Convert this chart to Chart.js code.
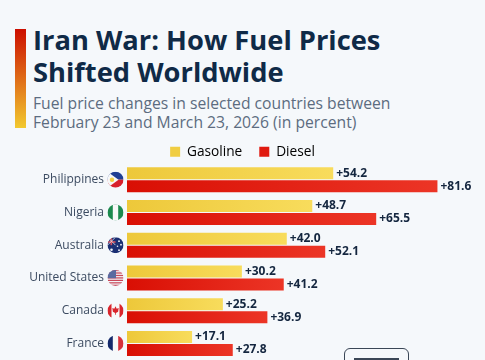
<!DOCTYPE html>
<html>
<head>
<meta charset="utf-8">
<script src="https://cdn.jsdelivr.net/npm/chart.js@4/dist/chart.umd.min.js"></script>
<style>
html, body { margin: 0; padding: 0; width: 485px; height: 360px; overflow: hidden; background: #f5f8fb; font-family: "Open Sans", sans-serif; }
.accent { position: absolute; left: 15px; top: 29px; width: 11px; height: 99px; background: linear-gradient(#cc0e00, #f2c92f); }
h1 { position: absolute; left: 33px; top: 24px; margin: 0; font-size: 27.3px; line-height: 31.5px; font-weight: 700; color: #0f2a47; white-space: nowrap; }
.sub { position: absolute; left: 33px; top: 94px; font-size: 15.7px; line-height: 19px; color: #5c6c80; white-space: nowrap; }
#myChart { position: absolute; left: 0; top: 128px; }
.logo { position: absolute; left: 344px; top: 348px; width: 63px; height: 20px; border: 1.5px solid #3a4656; border-radius: 6px; }
.logo i { position: absolute; left: 9px; top: 9px; width: 45px; height: 3px; background: #3a4656; }
</style>
</head>
<body>
<div class="accent"></div>
<h1>Iran War: How Fuel Prices<br>Shifted Worldwide</h1>
<div class="sub">Fuel price changes in selected countries between<br>February 23 and March 23, 2026 (in percent)</div>
<!-- canvas runs 7px past the window, the y axis keeps half a label height free at its bottom -->
<canvas id="myChart" width="485" height="239"></canvas>
<div class="logo"><i></i></div>
<script>
var countries = ["Philippines", "Nigeria", "Australia", "United States", "Canada", "France"];
var gasoline = [54.2, 48.7, 42.0, 30.2, 25.2, 17.1];
var diesel = [81.6, 65.5, 52.1, 41.2, 36.9, 27.8];

// each bar fades a little from left to right
function barGradient(ctx, from, to) {
    var chart = ctx.chart;
    if (!chart.chartArea || ctx.raw === undefined) return from;
    var xs = chart.scales.x;
    var g = chart.ctx.createLinearGradient(xs.getPixelForValue(0), 0, xs.getPixelForValue(ctx.raw), 0);
    g.addColorStop(0, from);
    g.addColorStop(1, to);
    return g;
}

// flag drawers, all work in a -8..8 box clipped to a circle
var flags = {
    "Philippines": function(c) {
        c.fillStyle = "#1f3f94"; c.fillRect(-8, -8, 16, 8);
        c.fillStyle = "#d8202c"; c.fillRect(-8, 0, 16, 8);
        c.fillStyle = "#f6f7f8"; c.beginPath(); c.moveTo(-8, -8); c.lineTo(3, 0); c.lineTo(-8, 8); c.fill();
        c.fillStyle = "#f4cf45"; c.beginPath(); c.arc(-3.5, 0, 2.2, 0, Math.PI * 2); c.fill();
    },
    "Nigeria": function(c) {
        c.fillStyle = "#1c8a4e"; c.fillRect(-8, -8, 16, 16);
        c.fillStyle = "#f7f9f8"; c.fillRect(-2.7, -8, 5.4, 16);
    },
    "Australia": function(c) {
        c.fillStyle = "#1b2f73"; c.fillRect(-8, -8, 16, 16);
        c.fillStyle = "#d9505c"; c.fillRect(-8, -4, 8, 1.6); c.fillRect(-5, -8, 1.6, 8);
        c.strokeStyle = "#e9e9ef"; c.lineWidth = 0.8; c.beginPath();
        c.moveTo(-8, -8); c.lineTo(0, 0); c.moveTo(0, -8); c.lineTo(-8, 0); c.stroke();
        c.fillStyle = "#f4f6fa";
        [[-4, 4.5, 1.3], [3.5, -4, 0.9], [5.5, -0.5, 0.9], [2, 1, 0.8], [3.5, 5, 0.9]].forEach(function(s) {
            c.beginPath(); c.arc(s[0], s[1], s[2], 0, Math.PI * 2); c.fill();
        });
    },
    "United States": function(c) {
        c.fillStyle = "#f2f3f6"; c.fillRect(-8, -8, 16, 16);
        c.fillStyle = "#c9475a";
        for (var i = 0; i < 7; i++) c.fillRect(-8, -8 + i * 2.46, 16, 1.23);
        c.fillStyle = "#5b6aa0"; c.fillRect(-8, -8, 8.5, 8.3);
    },
    "Canada": function(c) {
        c.fillStyle = "#f7f8f9"; c.fillRect(-8, -8, 16, 16);
        c.fillStyle = "#d9252c"; c.fillRect(-8, -8, 4, 16); c.fillRect(4, -8, 4, 16);
        c.beginPath(); c.moveTo(0, -4.5); c.lineTo(1.2, -2); c.lineTo(3.2, -2.6); c.lineTo(2.6, 1);
        c.lineTo(0.4, 2.4); c.lineTo(0.4, 4); c.lineTo(-0.4, 4); c.lineTo(-0.4, 2.4); c.lineTo(-2.6, 1);
        c.lineTo(-3.2, -2.6); c.lineTo(-1.2, -2); c.closePath(); c.fill();
    },
    "France": function(c) {
        c.fillStyle = "#f7f8f9"; c.fillRect(-8, -8, 16, 16);
        c.fillStyle = "#14296b"; c.fillRect(-8, -8, 5.3, 16);
        c.fillStyle = "#d6303a"; c.fillRect(2.7, -8, 5.3, 16);
    }
};

// flags next to the category labels
var flagPlugin = {
    id: "flagPlugin",
    afterDraw: function(chart) {
        var c = chart.ctx;
        countries.forEach(function(name, i) {
            c.save();
            c.translate(115.5, chart.scales.y.getPixelForValue(i));
            c.beginPath(); c.arc(0, 0, 8, 0, Math.PI * 2); c.clip();
            flags[name](c);
            c.restore();
        });
    }
};

// the +54.2 style labels at the end of the bars
var valueLabels = {
    id: "valueLabels",
    afterDatasetsDraw: function(chart) {
        var c = chart.ctx;
        c.save();
        c.font = "700 12px 'Open Sans'";
        c.fillStyle = "#14263f";
        c.textBaseline = "middle";
        chart.data.datasets.forEach(function(ds, d) {
            chart.getDatasetMeta(d).data.forEach(function(bar, i) {
                c.fillText("+" + ds.data[i].toFixed(1), bar.x + 3, bar.y);
            });
        });
        c.restore();
    }
};

// legend padding also sets the gap between items, so trim the height it asks for
var legendHeight = {
    id: "legendHeight",
    beforeLayout: function(chart) {
        var legend = chart.legend;
        if (legend.trimmed) return;
        var fit = legend.fit;
        legend.fit = function() {
            fit.call(legend);
            legend.height = 35.3;
        };
        legend.trimmed = true;
    }
};

var myChart = new Chart(document.getElementById("myChart"), {
    type: "bar",
    plugins: [legendHeight, flagPlugin, valueLabels],
    data: {
        labels: countries,
        datasets: [
            {
                label: "Gasoline",
                data: gasoline,
                backgroundColor: function(ctx) { return barGradient(ctx, "#edc83a", "#f8dc5c"); },
                categoryPercentage: 0.794,
                barPercentage: 0.923
            },
            {
                label: "Diesel",
                data: diesel,
                backgroundColor: function(ctx) { return barGradient(ctx, "#d90f04", "#ec3526"); },
                categoryPercentage: 0.794,
                barPercentage: 0.923
            }
        ]
    },
    options: {
        indexAxis: "y",
        responsive: false,
        animation: false,
        plugins: {
            tooltip: { enabled: false },
            legend: {
                position: "top",
                labels: {
                    boxWidth: 10,
                    boxHeight: 10,
                    padding: 17,
                    color: "#2b3a50",
                    font: { family: "'Open Sans'", size: 13.7 },
                    generateLabels: function() {
                        return [
                            { text: "Gasoline", fillStyle: "#f0cd42", strokeStyle: "#f0cd42", lineWidth: 0, datasetIndex: 0 },
                            { text: "Diesel", fillStyle: "#e01a10", strokeStyle: "#e01a10", lineWidth: 0, datasetIndex: 1 }
                        ];
                    }
                }
            }
        },
        scales: {
            x: { display: false, min: 0, max: 94.1 },
            y: {
                grid: { display: false, tickLength: 23 },
                border: { display: false },
                afterFit: function(axis) { axis.width = 127; },
                ticks: {
                    padding: 0,
                    color: "#3c4b61",
                    font: { family: "'Open Sans'", size: 12 }
                }
            }
        }
    }
});
</script>
</body>
</html>
